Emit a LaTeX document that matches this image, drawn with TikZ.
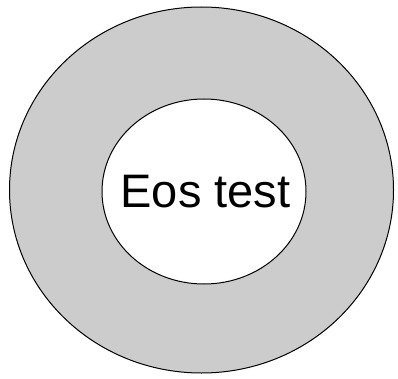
\documentclass[tikz,border=0pt]{standalone}
\usepackage{fontspec}
\setmainfont{Liberation Sans}
\usetikzlibrary{shapes,positioning}
\definecolor{ringgray}{RGB}{204,204,204}

\begin{document}
\begin{tikzpicture}[
    x=1pt, y=1pt,
    ring/.style={ellipse, draw=black, fill=ringgray, line width=1pt, inner sep=0pt},
    core/.style={ellipse, draw=black, fill=white, line width=1pt, inner sep=0pt},
    label/.style={inner sep=0pt, font=\fontsize{47}{52}\selectfont}
]
\useasboundingbox (0,0) rectangle (398,378);

% Outer ring
\node[ring, minimum width=384pt, minimum height=366pt] (outer) at (201.5,188) {};

% Inner circle with label
\node[core, minimum width=204pt, minimum height=185pt] (inner) at (204,186.5) {};
\node[label] (name) at (205.5,186) {Eos test};

\end{tikzpicture}
\end{document}
